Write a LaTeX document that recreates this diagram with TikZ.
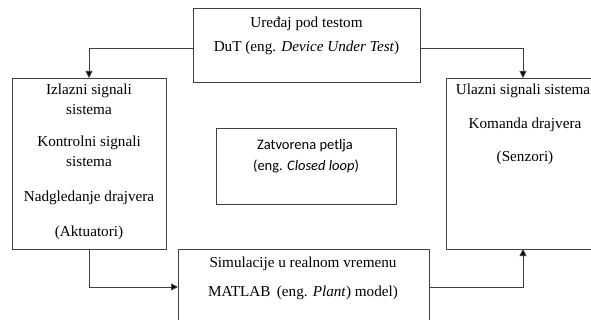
\documentclass[tikz,border=0pt]{standalone}
\usepackage{fontspec}
\setmainfont{Liberation Serif}
\newfontfamily\calfont{Carlito}
\usetikzlibrary{arrows.meta}
\begin{document}
\begin{tikzpicture}[x=1pt,y=-1pt,
  box/.style={draw=black!75, line width=0.9pt, inner sep=0pt, outer sep=0pt},
  txt/.style={inner sep=0pt, font=\fontsize{15.2}{18}\selectfont},
  ctxt/.style={inner sep=0pt, font=\calfont\fontsize{14.5}{17}\selectfont},
  conn/.style={draw=black!75, line width=0.9pt, -{Triangle[length=7pt,width=7pt,fill=black]}}]
\clip (0,0) rectangle (591,320);
\fill[white] (0,0) rectangle (591,320);
% boxes
\node[box, minimum width=227pt, minimum height=74pt] (top) at (306.5,45) {};
\node[box, minimum width=154pt, minimum height=171pt] (left) at (89,163.5) {};
\node[box, minimum width=154pt, minimum height=171pt] (right) at (523,163.5) {};
\node[box, minimum width=180pt, minimum height=76pt] (mid) at (306,166) {};
\node[box, minimum width=251pt, minimum height=78pt] (bot) at (303.5,288) {};
% texts
\node[txt] (t1) at (306.5,24) {Uređaj pod testom};
\node[txt] (t2) at (306.5,48) {DuT (eng. \textit{Device Under Test})};
\node[txt] (l1) at (89,91) {Izlazni signali};
\node[txt] (l2) at (89,110) {sistema};
\node[txt] (l3) at (89,143) {Kontrolni signali};
\node[txt] (l4) at (89,162) {sistema};
\node[txt] (l5) at (89,198) {Nadgledanje drajvera};
\node[txt] (l6) at (89,233) {(Aktuatori)};
\node[txt] (r1) at (523,91) {Ulazni signali sistema};
\node[txt] (r2) at (525,125) {Komanda drajvera};
\node[txt] (r3) at (525,158) {(Senzori)};
\node[ctxt] (m1) at (305,146) {Zatvorena petlja};
\node[ctxt] (m2) at (306,166) {(eng. \textit{Closed loop})};
\node[txt] (b1) at (303,264) {Simulacije u realnom vremenu};
\node[txt] (b2) at (303,293) {MATLAB\, (eng. \textit{Plant}) model)};
% connectors
\draw[conn] ([yshift=-3pt]top.west) -| (left.north);
\draw[conn] ([yshift=-3pt]top.east) -| (right.north);
\draw[conn] (left.south) |- ([yshift=1pt]bot.west);
\draw[conn] ([yshift=1pt]bot.east) -| (right.south);
\end{tikzpicture}
\end{document}
